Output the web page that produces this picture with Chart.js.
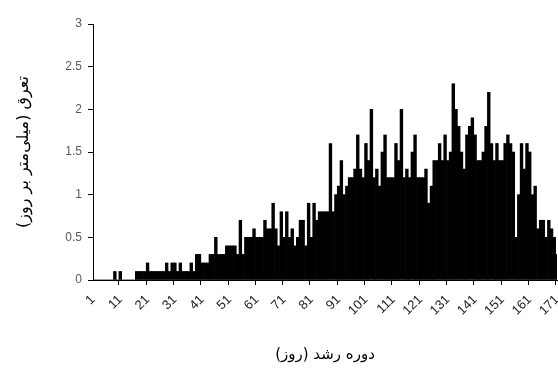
<!DOCTYPE html>
<html>
<head>
<meta charset="utf-8">
<script src="https://cdn.jsdelivr.net/npm/chart.js@4"></script>
<style>
  html, body { margin: 0; padding: 0; background: #fff; }
  #wrap { width: 558px; height: 369px; }
</style>
</head>
<body>
<div id="wrap"><canvas id="chart" width="558" height="369"></canvas></div>
<script>
/* روزهای دوره رشد و تعرق روزانه (میلی‌متر بر روز) */
const days = Array.from({ length: 171 }, (_, i) => i + 1);
const tickDays = [1, 11, 21, 31, 41, 51, 61, 71, 81, 91, 101, 111, 121, 131, 141, 151, 161, 171];

const transpiration = [
    0, 0, 0, 0, 0, 0, 0, 0, 0.1, 0,
    0.1, 0, 0, 0, 0, 0, 0.1, 0.1, 0.1, 0.1,
    0.2, 0.1, 0.1, 0.1, 0.1, 0.1, 0.1, 0.2, 0.1, 0.2,
    0.2, 0.1, 0.2, 0.1, 0.1, 0.1, 0.2, 0.1, 0.3, 0.3,
    0.2, 0.2, 0.2, 0.3, 0.3, 0.5, 0.3, 0.3, 0.3, 0.4,
    0.4, 0.4, 0.4, 0.3, 0.7, 0.3, 0.5, 0.5, 0.5, 0.6,
    0.5, 0.5, 0.5, 0.7, 0.6, 0.6, 0.9, 0.6, 0.4, 0.8,
    0.5, 0.8, 0.5, 0.6, 0.4, 0.5, 0.7, 0.7, 0.4, 0.9,
    0.5, 0.9, 0.7, 0.8, 0.8, 0.8, 0.8, 1.6, 0.8, 1.0,
    1.1, 1.4, 1.0, 1.1, 1.2, 1.2, 1.3, 1.7, 1.3, 1.2,
    1.6, 1.4, 2.0, 1.2, 1.3, 1.1, 1.5, 1.7, 1.2, 1.2,
    1.2, 1.6, 1.4, 2.0, 1.2, 1.3, 1.2, 1.5, 1.7, 1.2,
    1.2, 1.2, 1.3, 0.9, 1.1, 1.4, 1.4, 1.6, 1.4, 1.7,
    1.4, 1.5, 2.3, 2.0, 1.8, 1.5, 1.3, 1.7, 1.8, 1.9,
    1.7, 1.4, 1.4, 1.5, 1.8, 2.2, 1.6, 1.4, 1.6, 1.4,
    1.4, 1.6, 1.7, 1.6, 1.5, 0.5, 1.0, 1.6, 1.3, 1.6,
    1.5, 1.0, 1.1, 0.6, 0.7, 0.7, 0.5, 0.7, 0.6, 0.5, 0.3
];

const yTitle = '\u200Fتعرق (میلی\u200Cمتر بر روز)\u200F';
const xTitle = '\u200Fدوره رشد (روز)\u200F';

const ctx = document.getElementById('chart');

new Chart(ctx, {
    type: 'bar',
    data: {
        labels: days,
        datasets: [{
            data: transpiration,
            backgroundColor: '#000',
            borderWidth: 0,
            barPercentage: 1,
            categoryPercentage: 1
        }]
    },
    options: {
        responsive: false,
        animation: false,
        devicePixelRatio: 1,
        layout: { padding: { top: 24, right: 1, left: 0, bottom: 0 } },
        plugins: {
            legend: { display: false },
            tooltip: { enabled: false }
        },
        scales: {
            x: {
                type: 'category',
                offset: false,
                border: { color: '#000', width: 1 },
                grid: {
                    drawOnChartArea: false,
                    tickLength: 5,
                    color: c => tickDays.includes(days[c.index]) ? '#000' : 'rgba(0,0,0,0)'
                },
                ticks: {
                    autoSkip: false,
                    maxRotation: 45,
                    minRotation: 45,
                    padding: 7,
                    color: '#222',
                    font: { family: 'Liberation Sans', size: 13 },
                    callback: (v, i) => tickDays.includes(days[i]) ? String(days[i]) : ''
                },
                title: {
                    display: true,
                    text: xTitle,
                    color: '#000',
                    font: { family: 'DejaVu Sans', size: 15 },
                    padding: { top: 0, bottom: 5 }
                },
                afterFit: s => {
                    s.height = 89;
                    s.paddingLeft = 0;
                    s.paddingRight = 0;
                }
            },
            y: {
                min: 0,
                max: 3,
                border: { color: '#000', width: 1 },
                grid: { drawOnChartArea: false, tickLength: 5, color: '#000' },
                ticks: {
                    stepSize: 0.5,
                    padding: 6,
                    color: '#595959',
                    font: { family: 'Liberation Sans', size: 12 },
                    callback: v => String(v)
                },
                title: {
                    display: true,
                    text: yTitle,
                    color: '#000',
                    font: { family: 'DejaVu Sans', size: 16 },
                    padding: { top: 14, bottom: 0 }
                },
                afterFit: s => { s.width = 93; }
            }
        }
    }
});
</script>
</body>
</html>
